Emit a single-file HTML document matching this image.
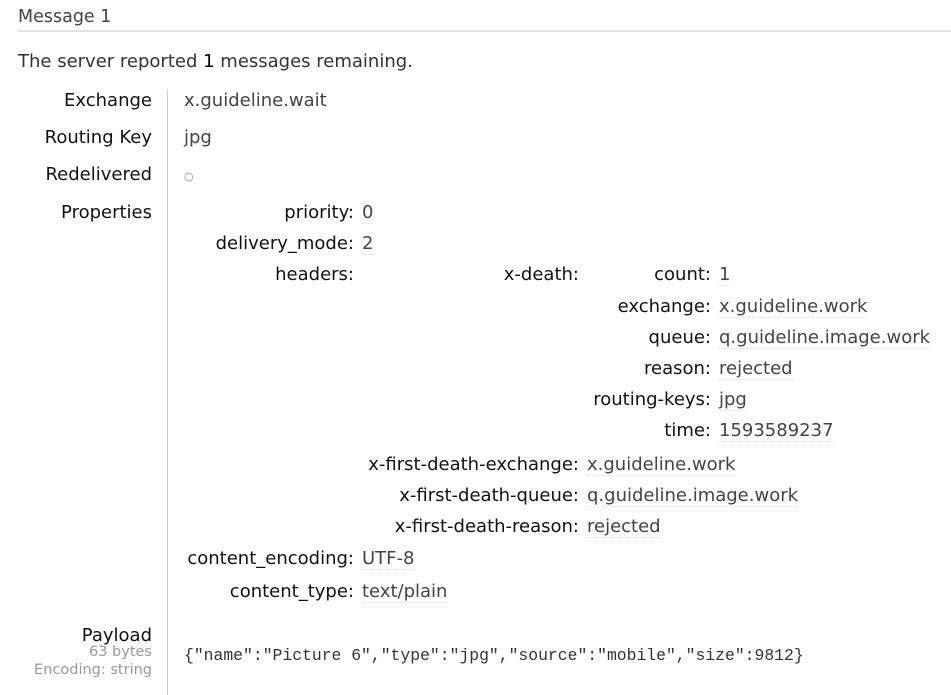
<!DOCTYPE html>
<html><head><meta charset="utf-8"><style>
html,body{margin:0;padding:0;background:#fff;width:951px;height:695px;overflow:hidden;position:relative}
body{font-family:"DejaVu Sans","Liberation Sans",sans-serif;font-size:18px;color:#111}
.a{position:absolute;white-space:nowrap;line-height:22px}
.k{text-align:right}
.v{color:#444;border-bottom:1px dotted #ddd;line-height:20px}
.m{font-family:"Liberation Mono",monospace;font-size:16.4px;color:#333}
</style></head><body>
<div class="a" style="left:18px;top:6px;font-size:17.5px;color:#444">Message 1</div>
<div style="position:absolute;left:18px;right:0;top:30px;height:2px;background:#e2e2e2"></div>
<div class="a" style="left:18px;top:51px;color:#333">The server reported <span style="color:#000">1</span> messages remaining.</div>
<div style="position:absolute;left:167px;top:90px;width:1px;height:605px;background:#ccc"></div>

<div class="a k" style="right:799px;top:90px">Exchange</div>
<div class="a v" style="left:184px;top:91px;border:none">x.guideline.wait</div>
<div class="a k" style="right:799px;top:127px">Routing Key</div>
<div class="a v" style="left:184px;top:128px;border:none">jpg</div>
<div class="a k" style="right:799px;top:164px">Redelivered</div>
<div class="a" style="left:184px;top:166px;font-size:11px;color:#888">○</div>
<div class="a k" style="right:799px;top:202px">Properties</div>

<div class="a k" style="right:597px;top:202px">priority:</div>
<div class="a v" style="left:362px;top:203px">0</div>
<div class="a k" style="right:597px;top:233px">delivery_mode:</div>
<div class="a v" style="left:362px;top:234px">2</div>
<div class="a k" style="right:597px;top:264px">headers:</div>

<div class="a k" style="right:372px;top:264px">x-death:</div>
<div class="a k" style="right:240px;top:264px">count:</div>
<div class="a v" style="left:719px;top:265px">1</div>
<div class="a k" style="right:240px;top:296px">exchange:</div>
<div class="a v" style="left:719px;top:297px">x.guideline.work</div>
<div class="a k" style="right:240px;top:327px">queue:</div>
<div class="a v" style="left:719px;top:328px">q.guideline.image.work</div>
<div class="a k" style="right:240px;top:358px">reason:</div>
<div class="a v" style="left:719px;top:359px">rejected</div>
<div class="a k" style="right:240px;top:389px">routing-keys:</div>
<div class="a v" style="left:719px;top:390px">jpg</div>
<div class="a k" style="right:240px;top:420px">time:</div>
<div class="a v" style="left:719px;top:421px">1593589237</div>

<div class="a k" style="right:372px;top:454px">x-first-death-exchange:</div>
<div class="a v" style="left:587px;top:455px">x.guideline.work</div>
<div class="a k" style="right:372px;top:485px">x-first-death-queue:</div>
<div class="a v" style="left:587px;top:486px">q.guideline.image.work</div>
<div class="a k" style="right:372px;top:516px">x-first-death-reason:</div>
<div class="a v" style="left:587px;top:517px">rejected</div>

<div class="a k" style="right:597px;top:548px">content_encoding:</div>
<div class="a v" style="left:362px;top:549px">UTF-8</div>
<div class="a k" style="right:597px;top:581px">content_type:</div>
<div class="a v" style="left:362px;top:582px">text/plain</div>

<div class="a k" style="right:799px;top:625px">Payload</div>
<div class="a k" style="right:799px;top:644px;font-size:14.5px;color:#999;line-height:16px">63 bytes</div>
<div class="a k" style="right:799px;top:662px;font-size:14.5px;color:#999;line-height:16px">Encoding: string</div>
<div class="a m" style="left:184px;top:645px">{"name":"Picture 6","type":"jpg","source":"mobile","size":9812}</div>
</body></html>
